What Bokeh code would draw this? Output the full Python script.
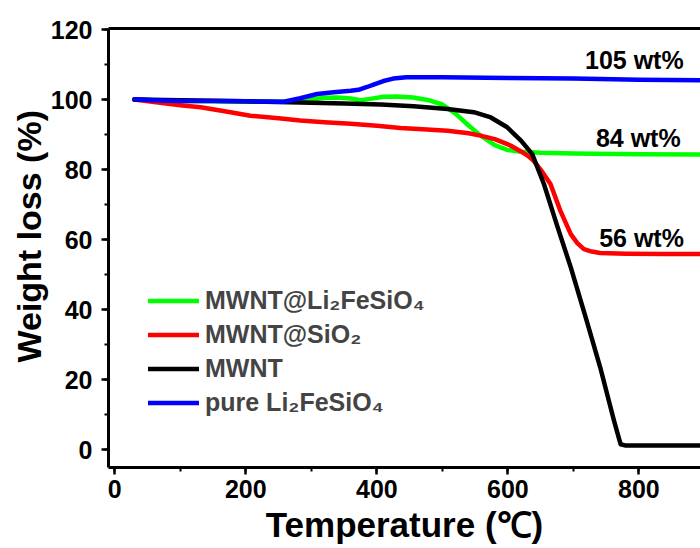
from bokeh.plotting import figure
from bokeh.models import (Legend, LegendItem, LinearAxis, SingleIntervalTicker,
                          FixedTicker, Range1d, Title)
from bokeh.core.properties import value
from bokeh.embed import file_html
from bokeh.resources import INLINE

# ---------------- data ----------------
green_t = [30, 60, 100, 150, 200, 250, 280, 300, 320, 340, 360, 375, 390, 410, 430, 455,
           480, 500, 520, 540, 560, 580, 600, 620, 650, 700, 800, 900]
green_w = [100.0, 99.8, 99.6, 99.5, 99.4, 99.4, 99.6, 100.0, 100.5, 100.6, 100.3, 99.8,
           100.2, 100.8, 100.9, 100.6, 99.8, 98.6, 96.0, 92.6, 89.5, 87.0, 85.6, 85.1,
           84.8, 84.6, 84.4, 84.3]

red_t = [30, 60, 100, 131, 170, 207, 250, 283, 320, 360, 400, 436, 470, 508, 540, 558,
         580, 604, 620, 630, 639, 652, 665, 680, 696, 706, 716, 728, 741, 780, 840, 900]
red_w = [100.0, 99.3, 98.4, 97.8, 96.6, 95.4, 94.7, 94.0, 93.5, 93.1, 92.5, 91.9, 91.5,
         91.1, 90.4, 89.7, 88.7, 86.9, 85.2, 84.0, 82.6, 79.5, 75.9, 68.3, 61.6, 59.0,
         57.3, 56.6, 56.2, 56.0, 55.9, 55.9]

black_t = [30, 100, 200, 283, 350, 406, 456, 508, 548, 574, 599, 620, 637, 655, 676, 696,
           720, 741, 762, 772, 780, 840, 900]
black_w = [100.0, 99.8, 99.5, 99.2, 98.9, 98.6, 98.1, 97.3, 96.4, 94.9, 92.1, 88.3, 84.5,
           75.9, 63.5, 52.1, 37.0, 23.5, 8.3, 1.6, 1.2, 1.2, 1.2]

blue_t = [30, 60, 100, 150, 200, 258, 283, 309, 334, 360, 372, 385, 395, 410, 425, 445,
          500, 600, 700, 800, 900]
blue_w = [100.1, 99.8, 99.6, 99.6, 99.5, 99.4, 100.4, 101.6, 102.1, 102.5, 102.8, 103.6,
          104.3, 105.3, 106.0, 106.4, 106.4, 106.2, 106.0, 105.7, 105.5]

series_names = ["MWNT@Li\u2082FeSiO\u2084", "MWNT@SiO\u2082", "MWNT", "pure Li\u2082FeSiO\u2084"]
series_colors = ["#00FF00", "#FF0000", "#000000", "#0000FF"]

annot_text = ["105 wt%", "84 wt%", "56 wt%"]
annot_x = [793, 799, 804]
annot_y = [111.3, 89.0, 60.6]

x_title = "Temperature (\u2103)"
y_title = "Weight loss (%)"

FONT = "Liberation Sans"

# ---------------- figure ----------------
p = figure(width=700, height=548, output_backend="svg", toolbar_location=None,
           x_range=Range1d(-9.6, 894), y_range=Range1d(-5.05, 120.3),
           min_border_left=108, min_border_right=0, min_border_top=28,
           min_border_bottom=81)
p.outline_line_color = None
p.xgrid.grid_line_color = None
p.ygrid.grid_line_color = None
p.background_fill_color = "white"
p.border_fill_color = "white"

for ax, interval in ((p.xaxis[0], 200), (p.yaxis[0], 20)):
    ax.ticker = SingleIntervalTicker(interval=interval, num_minor_ticks=2)
    ax.axis_line_width = 3
    ax.axis_line_color = "black"
    ax.major_tick_line_width = 2.5
    ax.minor_tick_line_width = 2
    ax.major_tick_out = 7
    ax.major_tick_in = 0
    ax.minor_tick_out = 4
    ax.minor_tick_in = 0
    ax.major_label_text_font = FONT
    ax.major_label_text_font_style = "bold"
    ax.major_label_text_font_size = "25px"
    ax.major_label_text_color = "black"

p.xaxis.major_label_standoff = 5
p.yaxis.major_label_standoff = 9

p.xaxis.axis_label = x_title
p.xaxis.axis_label_standoff = 4
p.xaxis.axis_label_text_font = FONT
p.xaxis.axis_label_text_font_style = "bold"
p.xaxis.axis_label_text_font_size = "35px"
p.xaxis.axis_label_text_color = "black"

ytitle = Title(text=y_title, align="left", offset=105, standoff=0,
               text_font=FONT, text_font_style="bold", text_font_size="34px",
               text_color="black")
p.add_layout(ytitle, "left")

top = LinearAxis(ticker=FixedTicker(ticks=[], minor_ticks=[]), axis_line_width=3,
                 axis_line_color="black", major_label_text_font_size="0px")
p.add_layout(top, "above")

src_t = [green_t, red_t, black_t, blue_t]
src_w = [green_w, red_w, black_w, blue_w]
renderers = []
for t, w, c in zip(src_t, src_w, series_colors):
    r = p.line(t, w, line_color=c, line_width=4.5, line_join="round", line_cap="round")
    renderers.append(r)

legend = Legend(items=[LegendItem(label=n, renderers=[r]) for n, r in zip(series_names, renderers)],
                location=(40, 50), border_line_color=None, background_fill_alpha=0,
                label_text_font=FONT, label_text_font_style="bold",
                label_text_font_size="25px", glyph_width=51, glyph_height=25,
                label_height=25, spacing=5, padding=0, margin=0, label_standoff=6)
p.add_layout(legend)

p.text(x=annot_x, y=annot_y, text=annot_text, text_font=value(FONT),
       text_font_style="bold", text_font_size="25px", text_align="center",
       text_baseline="alphabetic", text_color="black")

open("out.html", "w").write(file_html(p, INLINE))
